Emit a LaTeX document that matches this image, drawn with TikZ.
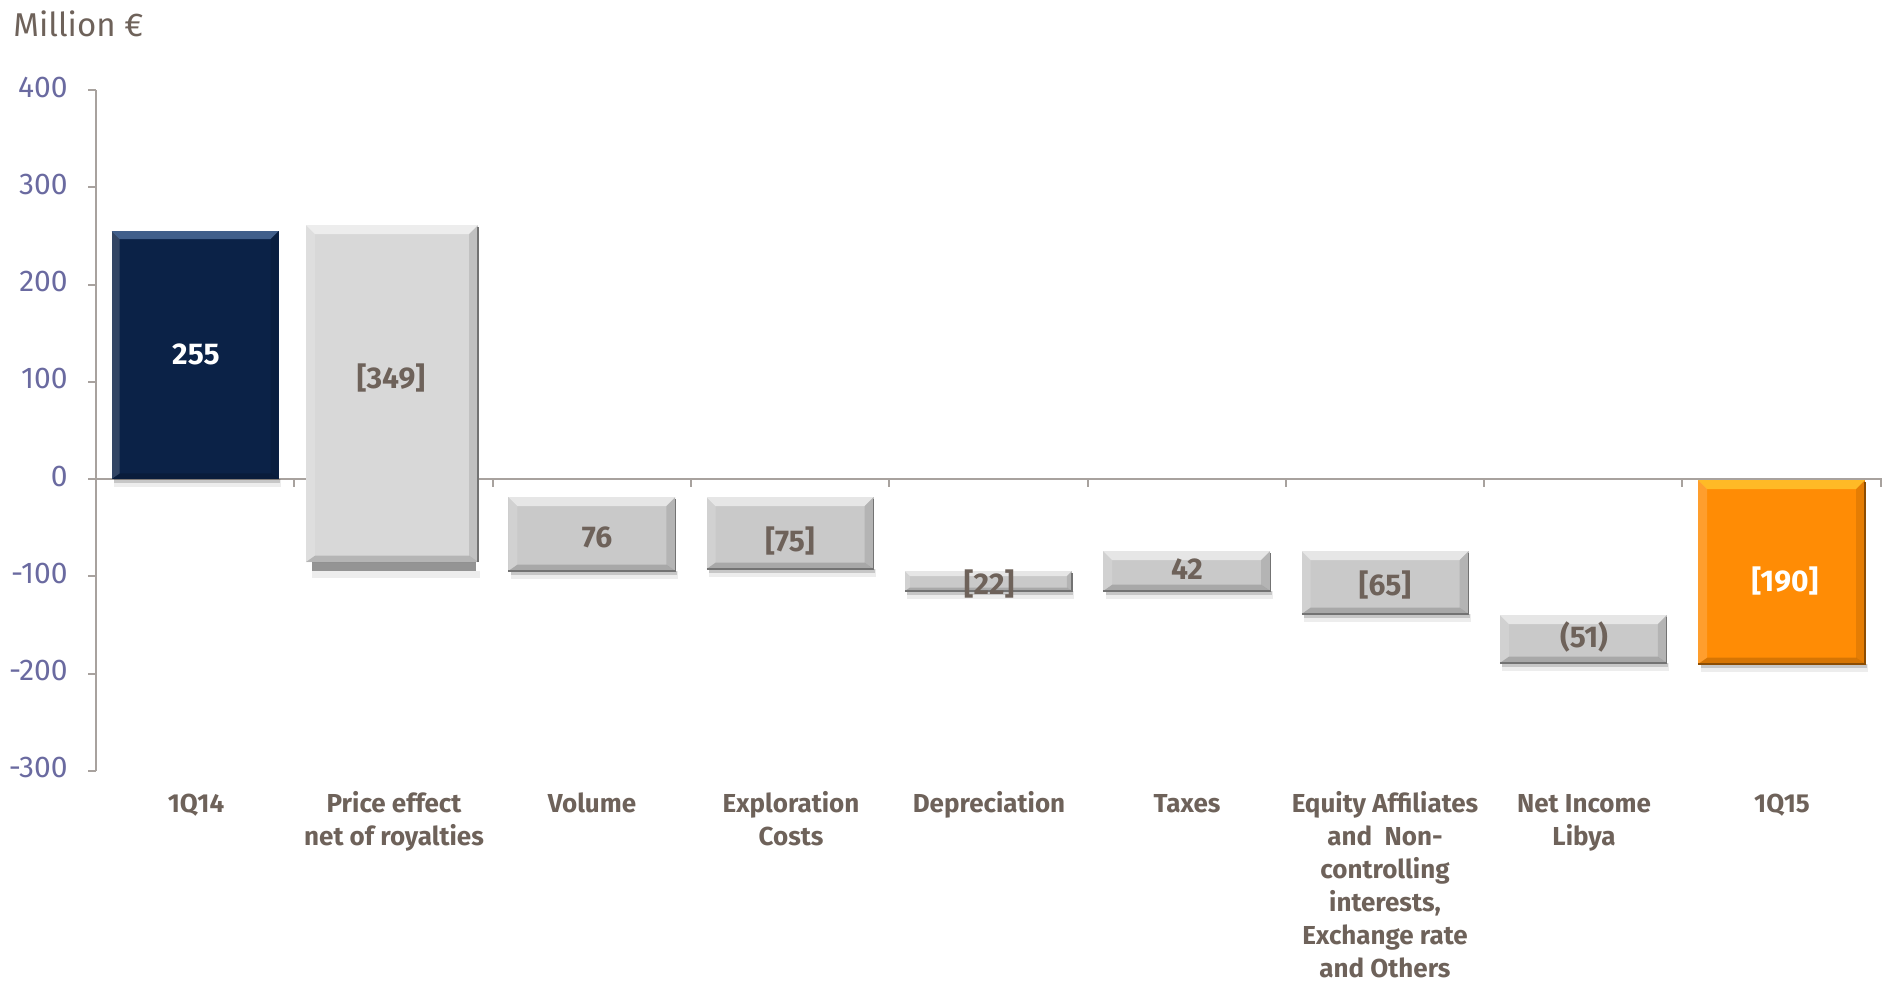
\documentclass[tikz,border=0pt]{standalone}
\usepackage{fontspec}
\setmainfont{Fira Sans}
\definecolor{navy}{HTML}{0B2247}
\definecolor{lgray}{HTML}{D8D8D8}
\definecolor{mgray}{HTML}{C9C9C9}
\definecolor{orng}{HTML}{FF8C05}
\definecolor{txt}{HTML}{6E625A}
\definecolor{ylab}{HTML}{6A6AA0}
\definecolor{axiscol}{HTML}{A8A29E}
\definecolor{navyhl}{HTML}{4F6F9C}
\definecolor{orhl}{HTML}{FFC02A}
\tikzset{
  hl/.store in=\hlcol, hl=white,
  hlop/.store in=\hlop, hlop=0.55,
  bevel/.style={path picture={
    \fill[\hlcol,opacity=\hlop] (path picture bounding box.north west) -- (path picture bounding box.north east)
      -- ([shift={(-#1,-#1)}]path picture bounding box.north east) -- ([shift={(#1,-#1)}]path picture bounding box.north west) -- cycle;
    \fill[white,opacity=0.16] (path picture bounding box.north west) -- (path picture bounding box.south west)
      -- ([shift={(#1,0.7*#1)}]path picture bounding box.south west) -- ([shift={(#1,-#1)}]path picture bounding box.north west) -- cycle;
    \fill[black,opacity=0.10] (path picture bounding box.north east) -- (path picture bounding box.south east)
      -- ([shift={(-#1,0.7*#1)}]path picture bounding box.south east) -- ([shift={(-#1,-#1)}]path picture bounding box.north east) -- cycle;
    \fill[black,opacity=0.16] (path picture bounding box.south west) -- (path picture bounding box.south east)
      -- ([shift={(-#1,0.7*#1)}]path picture bounding box.south east) -- ([shift={(#1,0.7*#1)}]path picture bounding box.south west) -- cycle;
  }},
  bevel/.default=4.5pt,
  axisline/.style={draw=axiscol, line width=1pt},
  edge/.style={draw=black!55, line width=0.6pt},
  ylabel/.style={anchor=east, inner sep=0pt, text=ylab, font=\fontsize{15}{18}\selectfont},
  cat/.style={anchor=north, inner sep=0pt, align=center, text=txt, font=\fontsize{13}{16.5}\selectfont\bfseries},
  val/.style={anchor=base, inner sep=0pt, text=txt, font=\fontsize{15}{18}\selectfont\bfseries},
  valw/.style={val, text=white},
  shadowA/.style={fill=black, opacity=0.16},
  shadowB/.style={fill=black, opacity=0.07},
}
\newcommand\wfbar[6]{% center x, top y, bottom y, colour, bevel, extra options
  \fill[shadowB] (#1-81,#3) rectangle (#1+86,#3+8);
  \fill[shadowA] (#1-81,#3) rectangle (#1+85,#3+4);
  \path[fill=#4, bevel=#5, #6] (#1-83.5,#2) rectangle (#1+83.5,#3);
}
\begin{document}
\begin{tikzpicture}[x=0.5pt, y=-0.5pt]
\useasboundingbox (0,0) rectangle (1884,987);

% title
\node[anchor=base west, inner sep=0pt, text=txt, font=\fontsize{16.5}{20}\selectfont] (title) at (13,36) {Million €};

% axes
\draw[axisline] (96,90) -- (96,771);
\draw[axisline] (88,479) -- (1882,479);
\foreach \v/\n in {400/y400,300/y300,200/y200,100/y100,0/y0,-100/ym100,-200/ym200,-300/ym300}{
  \pgfmathsetmacro\yy{479-0.9725*\v}
  \draw[axisline] (88,\yy) -- (96,\yy);
  \node[ylabel] (\n) at (68,\yy-3) {\v};
}
\foreach \k in {1,...,9}{
  \draw[axisline] (96+198.3*\k,479) -- (96+198.3*\k,487);
}

% bars
\wfbar{195.2}{231}{479}{navy}{4pt}{hl=navyhl, hlop=0.8}
% price effect bar (raised face + shadow strip)
\fill[shadowB] (312,571) rectangle (480,578);
\fill[fill=black!42] (312,562) rectangle (476,571);
\path[fill=lgray, bevel=4.5pt] (306,225) rectangle (478,562);
\draw[edge] (478,227) -- (478,562);
\wfbar{591.8}{497}{571}{mgray}{4.5pt}{}
\draw[edge] (675.3,499) -- (675.3,571) -- (508.3,571);
\wfbar{790}{497}{569}{mgray}{4.5pt}{}
\draw[edge] (873.5,499) -- (873.5,569) -- (706.5,569);
\wfbar{988.4}{571}{591}{mgray}{2.5pt}{}
\draw[edge] (1071.9,573) -- (1071.9,591) -- (904.9,591);
\wfbar{1186.7}{551}{591}{mgray}{4.5pt}{}
\draw[edge] (1270.2,553) -- (1270.2,591) -- (1103.2,591);
\wfbar{1385}{551}{614}{mgray}{4.5pt}{}
\draw[edge] (1468.5,553) -- (1468.5,614) -- (1301.5,614);
\wfbar{1583.3}{615}{663}{mgray}{4.5pt}{}
\draw[edge] (1666.8,617) -- (1666.8,663) -- (1499.8,663);
\wfbar{1781.6}{480}{664}{orng}{4.5pt}{hl=orhl, hlop=0.9}
\draw[orng!55!black, line width=0.7pt] (1865.1,482) -- (1865.1,664) -- (1698.1,664);

% value labels
\node[valw] (v1) at (196,364) {255};
\node[val] (v2) at (391,388) {[349]};
\node[val] (v3) at (597,547) {76};
\node[val] (v4) at (790,551) {[75]};
\node[val] (v5) at (989,594) {[22]};
\node[val] (v6) at (1187,579) {42};
\node[val] (v7) at (1385,595) {[65]};
\node[val] (v8) at (1584,647) {(51)};
\node[valw] (v9) at (1785,591) {[190]};

% category labels
\node[cat] (c1) at (196,789) {\strut 1Q14};
\node[cat] (c2) at (394,789) {\strut Price effect\\net of royalties};
\node[cat] (c3) at (592,789) {\strut Volume};
\node[cat] (c4) at (791,789) {\strut Exploration\\Costs};
\node[cat] (c5) at (989,789) {\strut Depreciation};
\node[cat] (c6) at (1187,789) {\strut Taxes};
\node[cat] (c7) at (1385,789) {\strut Equity Affiliates\\and\ \ Non-\\controlling\\interests,\\Exchange rate\\and Others};
\node[cat] (c8) at (1584,789) {\strut Net Income\\Libya};
\node[cat] (c9) at (1782,789) {\strut 1Q15};
\end{tikzpicture}
\end{document}
